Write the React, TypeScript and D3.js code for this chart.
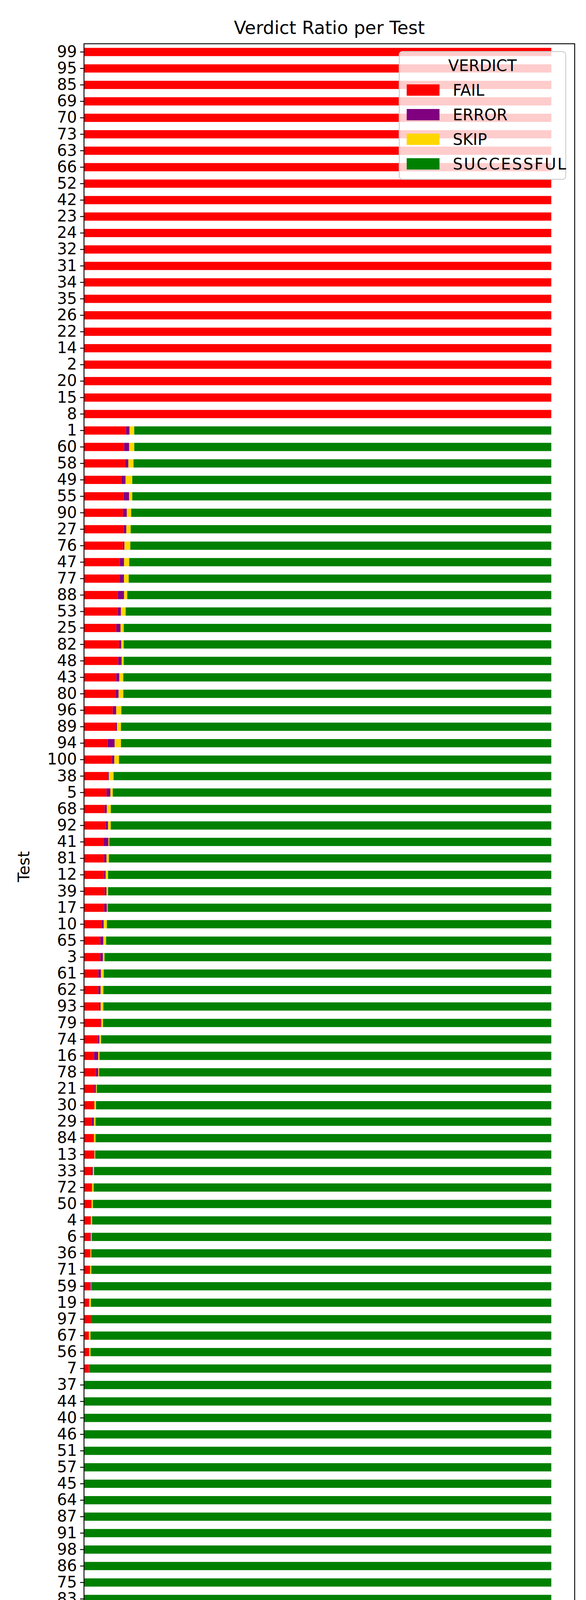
import { useEffect, useRef } from 'react';
import * as d3 from 'd3';

// tests from top to bottom
const tests = [
  '99', '95', '85', '69', '70', '73', '63', '66', '52', '42', '23', '24', '32', '31', '34', '35', '26', '22', '14', '2', '20', '15', '8',
  '1', '60', '58', '49', '55', '90', '27', '76', '47', '77', '88', '53', '25', '82', '48',
  '43', '80', '96', '89', '94', '100', '38', '5', '68', '92', '41', '81', '12', '39', '17',
  '10', '65', '3', '61', '62', '93', '79', '74', '16', '78', '21', '30', '29', '84',
  '13', '33', '72', '50', '4', '6', '36', '71', '59', '19', '97', '67', '56', '7',
  '37', '44', '40', '46', '51', '57', '45', '64', '87', '91', '98', '86', '75', '83', '54', '11', '9', '18', '28',
];

const allFail = Array(23).fill(1);
const allZero19 = Array(19).fill(0);

const failRatio = [
  ...allFail,
  0.090, 0.0858, 0.0883, 0.0799, 0.0849, 0.0833, 0.0849, 0.0833, 0.0766, 0.0757, 0.0724, 0.0724, 0.0691, 0.0749, 0.0732,
  0.069, 0.0674, 0.0615, 0.0674, 0.0507, 0.0599, 0.0507, 0.0482, 0.044, 0.0465, 0.0415, 0.0432, 0.0432, 0.044, 0.0432,
  0.0373, 0.0348, 0.0348, 0.0306, 0.0306, 0.0323, 0.0356, 0.0298, 0.0214, 0.0256, 0.0223, 0.0223, 0.0164, 0.0214,
  0.0206, 0.0156, 0.0173, 0.0164, 0.0148, 0.0131, 0.0139, 0.0114, 0.0131, 0.0106, 0.0148, 0.0106, 0.0114, 0.0106,
  ...allZero19,
];

const errorRatio = [
  ...Array(23).fill(0),
  0.0075, 0.0109, 0.0067, 0.0092, 0.0117, 0.0084, 0.0058, 0.0033, 0.0092, 0.010, 0.0134, 0.0067, 0.0092, 0.005, 0.0075,
  0.0067, 0.0067, 0.0075, 0.0033, 0.015, 0.005, 0.0025, 0.0084, 0.005, 0.005, 0.0109, 0.005, 0.0033, 0.0042, 0.0058,
  0.005, 0.0067, 0.0058, 0.0058, 0.005, 0.0033, 0.0017, 0.0033, 0.0092, 0.005, 0.0033, 0, 0.005, 0,
  0.0017, 0.0033, 0, 0, 0, 0.0017, 0, 0.0017, 0.0017, 0.0008, 0, 0, 0, 0.0006,
  ...allZero19,
];

const skipRatio = [
  ...Array(23).fill(0),
  0.010, 0.0109, 0.0109, 0.0142, 0.0067, 0.0092, 0.0092, 0.0125, 0.0109, 0.010, 0.0067, 0.010, 0.0067, 0.005, 0.0042,
  0.0084, 0.010, 0.0109, 0.0084, 0.0134, 0.010, 0.010, 0.005, 0.0084, 0.0058, 0.0017, 0.005, 0.005, 0.0033, 0.0017,
  0.0067, 0.0058, 0.0033, 0.0058, 0.0058, 0.0058, 0.0033, 0.0033, 0.0025, 0.0017, 0.0017, 0.0033, 0.0033, 0.0033,
  0.0017, 0.0025, 0.0033, 0.0025, 0.0025, 0.0017, 0.0017, 0.0025, 0.0008, 0.0033, 0, 0.0033, 0.0025, 0,
  ...allZero19,
];

const verdicts = ['FAIL', 'ERROR', 'SKIP', 'SUCCESSFUL'];
const colors = ['#ff0000', '#800080', '#ffd700', '#008000'];
const xTicks = [0, 0.2, 0.4, 0.6, 0.8, 1.0];

export default function App() {
  const svgRef = useRef<SVGSVGElement>(null);

  useEffect(() => {
    if (!svgRef.current) return;
    document.body.style.margin = '0';
    const width = 1500;
    const height = 4500;
    const margin = { top: 112, right: 29, bottom: 175, left: 215 };
    const innerWidth = width - margin.left - margin.right;
    const innerHeight = height - margin.top - margin.bottom;
    const font = 'DejaVu Sans, sans-serif';

    const svg = d3.select(svgRef.current);
    svg.selectAll('*').remove();
    svg.attr('width', width).attr('height', height);

    const g = svg.append('g').attr('transform', `translate(${margin.left},${margin.top})`);

    const xScale = d3.scaleLinear().domain([0, 1.05]).range([0, innerWidth]);
    const yScale = d3.scaleBand<string>().domain(tests).range([0, innerHeight]).padding(0.5).paddingOuter(0.25);

    const rows = tests.map((t, i) => {
      const f = failRatio[i];
      const e = errorRatio[i];
      const s = skipRatio[i];
      return { test: t, FAIL: f, ERROR: e, SKIP: s, SUCCESSFUL: Math.max(0, 1 - f - e - s) };
    });
    const stacked = d3.stack<any>().keys(verdicts)(rows);

    stacked.forEach((layer, li) => {
      g.append('g')
        .selectAll('rect')
        .data(layer)
        .join('rect')
        .attr('x', d => xScale(d[0]))
        .attr('width', d => Math.max(0, xScale(d[1]) - xScale(d[0])))
        .attr('y', d => yScale(d.data.test)!)
        .attr('height', yScale.bandwidth())
        .attr('fill', colors[li]);
    });

    // frame
    g.append('rect')
      .attr('width', innerWidth)
      .attr('height', innerHeight)
      .attr('fill', 'none')
      .attr('stroke', '#000')
      .attr('stroke-width', 2.3);

    // X axis
    const xAxis = g.append('g')
      .attr('transform', `translate(0,${innerHeight})`)
      .call(d3.axisBottom(xScale).tickValues(xTicks).tickFormat(d3.format('.1f')).tickSize(10).tickPadding(10));
    xAxis.select('.domain').remove();
    xAxis.selectAll('line').attr('stroke-width', 2.3);
    xAxis.selectAll('text').style('font-size', '40px').style('font-family', font).style('fill', '#000');

    // Y axis
    const yAxis = g.append('g')
      .call(d3.axisLeft(yScale).tickSize(10).tickPadding(8));
    yAxis.select('.domain').remove();
    yAxis.selectAll('line').attr('stroke-width', 2.3);
    yAxis.selectAll('text').style('font-size', '40px').style('font-family', font).style('fill', '#000');

    // title and axis labels
    svg.append('text')
      .attr('x', margin.left + innerWidth / 2)
      .attr('y', 87)
      .attr('text-anchor', 'middle')
      .style('font-size', '46px')
      .style('font-family', font)
      .text('Verdict Ratio per Test');

    svg.append('text')
      .attr('x', margin.left + innerWidth / 2)
      .attr('y', 4445)
      .attr('text-anchor', 'middle')
      .style('font-size', '40px')
      .style('font-family', font)
      .text('Verdict Ratio');

    svg.append('text')
      .attr('transform', `translate(75,${margin.top + innerHeight / 2}) rotate(-90)`)
      .attr('text-anchor', 'middle')
      .style('font-size', '40px')
      .style('font-family', font)
      .text('Test');

    // Legend
    const legend = svg.append('g').attr('transform', 'translate(1022,132)');
    legend.append('rect')
      .attr('width', 426)
      .attr('height', 327)
      .attr('rx', 8)
      .attr('fill', 'white')
      .attr('fill-opacity', 0.8)
      .attr('stroke', '#d0d0d0')
      .attr('stroke-width', 2.5);
    legend.append('text')
      .attr('x', 213)
      .attr('y', 50)
      .attr('text-anchor', 'middle')
      .style('font-size', '40px')
      .style('font-family', font)
      .text('VERDICT');
    verdicts.forEach((v, i) => {
      const row = legend.append('g').attr('transform', `translate(19,${84 + i * 63})`);
      row.append('rect').attr('width', 84).attr('height', 29).attr('fill', colors[i]);
      row.append('text')
        .attr('x', 118)
        .attr('y', 29)
        .attr('textLength', v.length > 6 ? 290 : null as any)
        .style('font-size', '40px')
        .style('font-family', font)
        .text(v);
    });
  }, []);

  return <svg ref={svgRef} style={{ display: 'block', background: '#fff' }}></svg>;
}
